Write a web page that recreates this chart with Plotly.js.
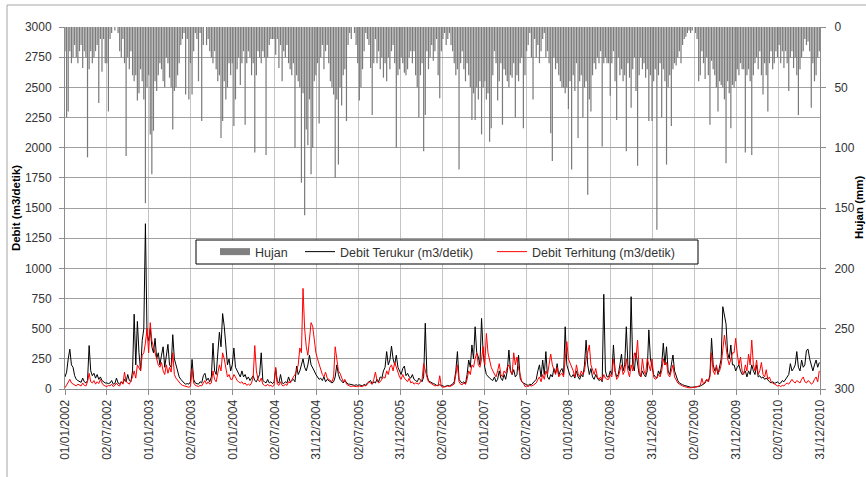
<!DOCTYPE html>
<html>
<head>
<meta charset="utf-8">
<script src="https://cdn.plot.ly/plotly-3.0.1.min.js"></script>
<style>
  html, body { margin: 0; padding: 0; background: #ffffff; }
  #chart { width: 866px; height: 477px; }
</style>
</head>
<body>
<div id="chart"></div>
<script>
// Weekly samples (every 7 days) starting 01/01/2002
const startDate = '2002-01-01';
const stepDays = 7;

// Rainfall (mm), secondary reversed axis
const hujan = [
  20,75,70,20,30,25,15,25,30,20,15,34,20,25,108,35,20,30,25,20,15,63,10,37,10,30,
  30,70,10,5,0,3,0,5,20,25,10,30,107,25,35,20,40,45,40,61,55,35,45,60,146,50,
  40,89,122,86,45,53,40,30,35,45,50,25,30,42,50,85,53,50,40,30,15,10,5,56,10,60,
  30,56,20,5,10,45,5,78,15,0,15,10,20,25,30,20,35,45,40,92,78,45,60,50,30,40,
  30,82,60,35,25,48,30,20,81,30,20,25,40,30,104,40,20,25,30,20,25,106,25,15,10,10,
  10,23,10,34,15,45,20,25,15,30,35,40,30,100,40,45,50,129,55,156,85,98,60,122,100,45,
  40,30,80,25,15,35,20,15,30,45,50,56,125,60,114,50,65,40,35,78,15,5,10,0,5,15,
  30,61,50,35,20,5,10,15,34,73,30,10,30,20,35,25,42,30,45,25,35,20,15,30,100,40,
  35,25,30,38,40,35,25,20,30,20,40,50,75,40,30,103,73,20,35,25,15,28,20,10,40,59,
  20,10,5,15,10,5,15,20,30,40,35,118,30,20,35,45,30,40,50,77,55,77,50,60,45,89,
  50,45,60,55,95,84,40,20,30,61,45,30,81,35,40,45,50,40,42,30,75,40,45,30,25,84,
  40,20,15,5,25,60,10,25,15,30,20,10,5,25,20,30,88,111,25,35,30,40,45,50,50,55,
  50,68,45,118,40,53,30,92,45,40,75,50,45,139,60,70,40,30,35,25,30,20,99,30,25,30,
  30,57,30,20,45,77,25,40,35,45,40,103,30,42,67,35,25,53,115,40,25,35,30,42,35,78,
  40,78,45,35,168,40,30,75,35,45,114,50,40,82,35,30,32,25,20,30,15,10,8,5,3,5,
  3,0,5,10,45,40,20,30,43,25,40,81,28,35,40,50,70,45,48,50,60,113,45,55,84,48,
  50,45,35,40,30,35,35,104,40,35,45,106,40,30,25,35,20,40,56,30,40,70,30,20,35,30,
  20,25,15,30,20,34,20,30,53,25,20,34,25,40,73,35,25,20,10,15,12,20,67,30,45,40,25,20
];

// Measured discharge (m3/detik)
const debitTerukur = [
  100,140,250,330,200,180,110,80,70,60,55,90,60,50,70,360,150,110,130,90,120,80,100,70,60,50,
  50,45,50,70,40,45,90,50,40,60,45,80,60,120,70,60,150,620,200,560,300,150,400,500,1370,450,
  400,500,350,300,420,250,300,200,280,350,180,300,370,200,180,450,250,200,150,100,80,60,50,40,45,40,
  60,245,80,50,45,40,60,50,110,130,70,90,60,100,380,150,120,300,470,350,625,520,350,200,250,150,
  200,340,180,150,130,100,150,100,120,80,100,70,90,110,70,60,90,120,300,70,60,50,80,50,60,45,
  60,170,60,50,120,50,45,60,50,100,60,70,80,60,190,120,150,200,250,180,150,200,280,200,180,150,
  120,100,80,90,70,100,60,80,70,60,50,60,100,200,120,80,60,50,70,50,40,40,35,30,30,35,
  30,35,30,25,40,30,50,60,70,40,60,50,80,60,100,90,150,180,310,200,240,356,250,200,280,180,
  150,120,170,190,110,130,100,90,120,80,70,60,90,70,60,100,545,120,70,60,50,45,40,30,30,35,
  30,25,20,25,30,25,30,40,60,150,310,80,60,50,60,40,120,240,180,365,250,516,300,265,200,585,
  300,180,120,100,90,80,70,100,60,80,150,90,70,120,80,150,323,150,120,160,100,120,280,90,60,50,
  40,35,30,40,35,50,60,80,150,200,100,240,120,310,100,80,120,100,170,130,210,110,150,170,120,516,
  200,150,110,100,120,90,150,100,80,120,100,200,405,200,120,170,100,80,120,90,70,80,60,785,150,100,
  100,150,120,365,150,100,120,200,290,150,200,516,200,150,765,200,150,300,200,120,100,150,120,100,150,490,
  250,170,120,100,90,150,120,200,380,200,350,150,120,200,282,150,100,70,50,40,35,30,25,20,20,15,
  15,15,20,15,20,25,30,40,50,80,60,120,420,200,150,180,120,200,250,682,620,540,300,250,365,200,
  200,150,180,200,150,120,130,150,100,150,120,200,150,120,200,100,110,90,100,80,90,70,60,50,60,50,
  50,60,45,50,70,60,80,100,120,210,150,170,200,310,180,150,240,180,200,320,330,250,200,150,200,240,180,220
];

// Computed discharge (m3/detik)
const debitTerhitung = [
  10,30,60,80,50,40,30,25,40,30,25,50,30,25,60,130,60,50,70,40,60,45,80,50,30,25,
  20,30,25,40,20,30,50,30,25,60,40,140,60,50,40,70,100,150,90,200,180,150,280,300,380,500,
  300,550,400,350,300,250,200,180,220,150,120,200,130,180,140,300,120,90,70,50,40,30,25,20,20,15,
  20,165,50,30,25,20,30,25,50,70,40,60,40,50,150,80,60,120,200,150,300,250,180,100,120,80,
  80,120,100,70,60,50,60,40,50,30,40,30,50,100,360,150,80,60,90,40,30,25,40,25,30,20,
  30,180,40,30,60,30,25,40,30,60,50,80,100,120,150,200,340,300,834,500,350,280,450,550,520,400,
  300,250,200,150,120,100,140,90,80,70,60,100,350,250,150,130,90,60,80,40,30,25,20,25,20,20,
  20,25,20,20,30,25,40,60,50,40,80,140,70,50,60,80,100,90,150,120,180,200,150,220,180,130,
  100,80,120,90,70,60,90,50,60,40,50,45,40,60,80,210,150,100,60,50,40,30,25,30,25,110,
  20,15,15,20,25,20,25,30,40,120,200,60,40,35,50,40,80,150,120,200,180,250,300,200,180,250,
  350,200,460,300,230,180,150,120,100,150,210,120,100,150,130,180,200,150,120,300,200,265,170,120,60,50,
  20,25,20,30,25,30,40,50,80,100,60,120,80,150,120,200,290,200,150,120,180,100,120,130,100,250,
  392,250,220,180,150,100,200,130,100,150,120,150,250,300,365,200,150,120,170,100,80,100,70,120,90,80,
  80,120,100,250,150,80,100,150,200,120,150,250,150,100,200,150,300,250,405,150,100,250,150,120,250,200,
  150,250,100,80,90,120,100,150,250,200,220,120,100,150,200,100,70,50,40,30,25,20,15,15,10,10,
  10,10,15,20,25,30,88,40,60,80,60,100,300,150,120,200,130,150,200,300,447,350,250,200,250,300,
  300,420,290,200,265,150,120,200,150,290,200,405,200,150,240,120,150,220,120,100,160,80,100,60,50,40,
  30,25,30,20,30,25,40,50,40,60,80,60,50,70,60,50,80,100,60,50,70,60,40,50,80,100,60,150
];

// X-axis tick labels (dd/mm/yyyy)
const tickLabels = [
  '01/01/2002','02/07/2002','01/01/2003','02/07/2003','01/01/2004','02/07/2004',
  '31/12/2004','02/07/2005','31/12/2005','02/07/2006','01/01/2007','02/07/2007',
  '01/01/2008','01/07/2008','31/12/2008','02/07/2009','31/12/2009','02/07/2010','31/12/2010'
];

const seriesNames = ['Hujan', 'Debit Terukur (m3/detik)', 'Debit Terhitung (m3/detik)'];

// ---- build ----
const t0 = Date.parse(startDate + 'T00:00:00Z');
const dates = hujan.map((_, i) => new Date(t0 + i * stepDays * 86400000).toISOString().slice(0, 10));
const tickVals = tickLabels.map(s => { const p = s.split('/'); return p[2] + '-' + p[1] + '-' + p[0]; });

const FONT = 'Liberation Sans, Arial, sans-serif';
const W = 866, H = 477;
const M = { l: 65, r: 46, t: 27, b: 88 };
const PW = W - M.l - M.r, PH = H - M.t - M.b;
const px = x => (x - M.l) / PW;          // pixel -> paper x
const py = y => (H - M.b - y) / PH;      // pixel -> paper y

const legendBase = {
  orientation: 'h', yanchor: 'middle', xanchor: 'left', y: py(252),
  bgcolor: 'rgba(0,0,0,0)', borderwidth: 0,
  font: { family: FONT, size: 12.5, color: '#333333' }
};

const traces = [
  { type: 'bar', name: seriesNames[0], x: dates, y: hujan, yaxis: 'y2',
    marker: { color: '#7a7a7a', line: { width: 0 } }, showlegend: false, hoverinfo: 'skip' },
  { type: 'scatter', mode: 'lines', name: seriesNames[0], x: [null], y: [null], yaxis: 'y2',
    line: { color: '#808080', width: 7 }, showlegend: true, legend: 'legend' },
  { type: 'scatter', mode: 'lines', name: seriesNames[1], x: dates, y: debitTerukur,
    line: { color: '#000000', width: 1 }, legend: 'legend2' },
  { type: 'scatter', mode: 'lines', name: seriesNames[2], x: dates, y: debitTerhitung,
    line: { color: '#ff0000', width: 1 }, legend: 'legend3' }
];

const layout = {
  width: W, height: H,
  margin: M,
  paper_bgcolor: '#ffffff', plot_bgcolor: '#ffffff',
  font: { family: FONT, size: 12, color: '#333333' },
  bargap: 0.25,
  showlegend: true,
  legend:  Object.assign({}, legendBase, { x: px(215) }),
  legend2: Object.assign({}, legendBase, { x: px(300) }),
  legend3: Object.assign({}, legendBase, { x: px(492) }),
  xaxis: {
    type: 'date', range: ['2002-01-01', '2010-12-31'],
    tickmode: 'array', tickvals: tickVals, ticktext: tickLabels, tickangle: -90,
    showgrid: true, gridcolor: '#c4c4c4', gridwidth: 1,
    showline: true, linecolor: '#8c8c8c', linewidth: 1,
    ticks: 'outside', ticklen: 5, tickcolor: '#8c8c8c',
    tickfont: { family: FONT, size: 12, color: '#333333' },
    zeroline: false, fixedrange: true
  },
  yaxis: {
    range: [0, 3000], tick0: 0, dtick: 250,
    showgrid: true, gridcolor: '#a0a0a0', gridwidth: 1,
    showline: true, linecolor: '#8c8c8c', linewidth: 1,
    ticks: 'outside', ticklen: 5, tickcolor: '#8c8c8c', ticklabelstandoff: 5,
    tickfont: { family: FONT, size: 12, color: '#333333' },
    zeroline: false,
    title: { text: '<b>Debit (m3/detik)</b>', font: { family: FONT, size: 11.5, color: '#000000' }, standoff: 1 }
  },
  yaxis2: {
    overlaying: 'y', side: 'right', range: [300, 0], tick0: 0, dtick: 50,
    showgrid: false, showline: true, linecolor: '#8c8c8c', linewidth: 1,
    ticks: 'outside', ticklen: 5, tickcolor: '#8c8c8c', ticklabelstandoff: 6,
    tickfont: { family: FONT, size: 12, color: '#333333' },
    zeroline: false
  },
  shapes: [
    // chart outer border
    { type: 'rect', xref: 'paper', yref: 'paper', x0: px(7), x1: px(880), y0: py(5), y1: py(490),
      line: { color: '#a6a6a6', width: 1 }, fillcolor: 'rgba(0,0,0,0)', layer: 'below' },
    // legend box
    { type: 'rect', xref: 'paper', yref: 'paper', x0: px(196), x1: px(698), y0: py(240), y1: py(264),
      line: { color: '#000000', width: 1 }, fillcolor: '#ffffff', layer: 'above' }
  ],
  annotations: [
    { text: '<b>Hujan (mm)</b>', xref: 'paper', yref: 'paper', x: px(851), y: py(208),
      xanchor: 'left', yanchor: 'middle', textangle: -90, showarrow: false,
      font: { family: FONT, size: 11.5, color: '#000000' } }
  ]
};

Plotly.newPlot('chart', traces, layout, { displayModeBar: false, staticPlot: true });
</script>
</body>
</html>
